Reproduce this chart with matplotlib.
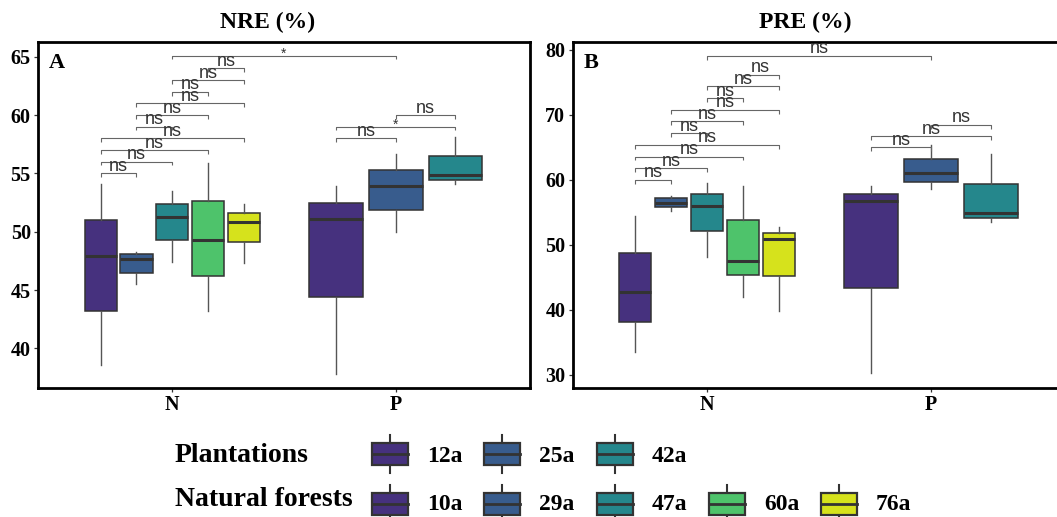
import matplotlib
matplotlib.use("Agg")
import matplotlib.pyplot as plt
from matplotlib.patches import Rectangle

W, H, DPI = 1057, 517, 100

groups = ["N", "P"]
natural_ages = ["10a", "29a", "47a", "60a", "76a"]
plantation_ages = ["12a", "25a", "42a"]
palette = ["#46317E", "#385C8D", "#25878C", "#4EC36B", "#D6E21C"]

# ---- NRE (%) : panel A ----
nre_N_low = [38.6, 45.5, 47.4, 43.2, 47.3]
nre_N_q1 = [43.2, 46.5, 49.3, 46.2, 49.1]
nre_N_med = [47.9, 47.7, 51.3, 49.3, 50.8]
nre_N_q3 = [51.0, 48.1, 52.4, 52.6, 51.6]
nre_N_high = [54.1, 48.3, 53.5, 55.9, 52.4]
nre_P_low = [37.8, 50.0, 54.1]
nre_P_q1 = [44.4, 51.9, 54.4]
nre_P_med = [51.1, 53.9, 54.9]
nre_P_q3 = [52.5, 55.3, 56.5]
nre_P_high = [53.9, 56.7, 58.1]

# ---- PRE (%) : panel B ----
pre_N_low = [33.6, 55.2, 48.2, 42.0, 39.8]
pre_N_q1 = [38.1, 55.9, 52.2, 45.4, 45.3]
pre_N_med = [42.8, 56.5, 56.0, 47.5, 50.9]
pre_N_q3 = [48.7, 57.2, 57.8, 53.8, 51.9]
pre_N_high = [54.5, 57.5, 59.5, 59.0, 52.8]
pre_P_low = [30.3, 58.6, 53.6]
pre_P_q1 = [43.4, 59.7, 54.2]
pre_P_med = [56.7, 61.0, 54.9]
pre_P_q3 = [57.9, 63.3, 59.4]
pre_P_high = [59.1, 65.4, 64.0]

# ---- significance brackets ----
pairs_N = [(0, 1), (0, 2), (0, 3), (0, 4), (1, 2), (1, 3), (1, 4), (2, 3), (2, 4), (3, 4)]
pairs_P = [(0, 1), (0, 2), (1, 2)]
nre_N_sig_y = [55, 56, 57, 58, 59, 60, 61, 62, 63, 64]
nre_N_sig = ["ns"] * 10
nre_P_sig_y = [58.0, 59.0, 60.0]
nre_P_sig = ["ns", "*", "ns"]
nre_NP_sig_y = 65.1
nre_NP_sig = "*"
pre_N_sig_y = [60.0, 61.8, 63.6, 65.4, 67.2, 69.0, 70.8, 72.6, 74.4, 76.2]
pre_N_sig = ["ns"] * 10
pre_P_sig_y = [65.0, 66.7, 68.5]
pre_P_sig = ["ns", "ns", "ns"]
pre_NP_sig_y = 79.1
pre_NP_sig = "ns"

SERIF = "Liberation Serif"
SANS = "Liberation Sans"

fig = plt.figure(figsize=(W / DPI, H / DPI), dpi=DPI)
fig.patch.set_facecolor("white")

y_bot, y_top = 388, 42
axA = fig.add_axes([38 / W, (H - y_bot) / H, 492 / W, (y_bot - y_top) / H])
axB = fig.add_axes([572.5 / W, (H - y_bot) / H, 493 / W, (y_bot - y_top) / H])

posN = [1 + (i - 2) * 0.16 for i in range(5)]
posP = [2 + (i - 1) * 0.8 / 3 for i in range(3)]


def make_stats(low, q1, med, q3, high):
    return [dict(whislo=a, q1=b, med=c, q3=d, whishi=e, fliers=[])
            for a, b, c, d, e in zip(low, q1, med, q3, high)]


def draw_boxes(ax, stats, pos, width):
    bp = ax.bxp(stats, positions=pos, widths=width, patch_artist=True,
                showcaps=False, showfliers=False, manage_ticks=False,
                boxprops=dict(edgecolor="#333333", linewidth=1.1),
                medianprops=dict(color="#333333", linewidth=2.2),
                whiskerprops=dict(color="#555555", linewidth=1.0))
    for patch, col in zip(bp["boxes"], palette):
        patch.set_facecolor(col)


def bracket(ax, x1, x2, y, label, tip):
    ax.plot([x1, x1, x2, x2], [y - tip, y, y, y - tip], color="#666666",
            lw=0.8, solid_capstyle="butt", zorder=3)
    if label == "*":
        size, dy = 10, -1.5
    else:
        size, dy = 13, 1.8
    ax.annotate(label, xy=((x1 + x2) / 2, y), xytext=(0, dy),
                textcoords="offset points", ha="center", va="baseline",
                fontsize=size, family=SANS, color="#333333", zorder=4)


def panel(ax, N, P, ylim, yticks, sigN_y, sigN, sigP_y, sigP, top_y, top_lab, letter):
    draw_boxes(ax, make_stats(*N), posN, 0.144)
    draw_boxes(ax, make_stats(*P), posP, 0.24)
    tip = 0.011 * (ylim[1] - ylim[0])
    for (i, j), y, lab in zip(pairs_N, sigN_y, sigN):
        bracket(ax, posN[i], posN[j], y, lab, tip)
    for (i, j), y, lab in zip(pairs_P, sigP_y, sigP):
        bracket(ax, posP[i], posP[j], y, lab, tip)
    bracket(ax, 1, 2, top_y, top_lab, tip)
    ax.set_xlim(0.4, 2.6)
    ax.set_ylim(*ylim)
    ax.set_yticks(yticks)
    ax.set_xticks([1, 2])
    ax.set_xticklabels(groups)
    for lab in ax.get_xticklabels() + ax.get_yticklabels():
        lab.set_family(SERIF)
        lab.set_fontweight("bold")
        lab.set_fontsize(14.5)
    ax.tick_params(direction="out", length=3.2, width=0.9, color="#333333", pad=2)
    for sp in ax.spines.values():
        sp.set_linewidth(2.0)
        sp.set_color("black")
    ax.text(0.022, 0.925, letter, transform=ax.transAxes, family=SERIF,
            fontweight="bold", fontsize=16, va="baseline", ha="left")


panel(axA,
      (nre_N_low, nre_N_q1, nre_N_med, nre_N_q3, nre_N_high),
      (nre_P_low, nre_P_q1, nre_P_med, nre_P_q3, nre_P_high),
      (36.6, 66.26), [40, 45, 50, 55, 60, 65],
      nre_N_sig_y, nre_N_sig, nre_P_sig_y, nre_P_sig, nre_NP_sig_y, nre_NP_sig, "A")
panel(axB,
      (pre_N_low, pre_N_q1, pre_N_med, pre_N_q3, pre_N_high),
      (pre_P_low, pre_P_q1, pre_P_med, pre_P_q3, pre_P_high),
      (28.0, 81.23), [30, 40, 50, 60, 70, 80],
      pre_N_sig_y, pre_N_sig, pre_P_sig_y, pre_P_sig, pre_NP_sig_y, pre_NP_sig, "B")

fig.text(268 / W, 1 - 28 / H, "NRE (%)", ha="center", va="baseline",
         family=SERIF, fontweight="bold", fontsize=17)
fig.text(805 / W, 1 - 28 / H, "PRE (%)", ha="center", va="baseline",
         family=SERIF, fontweight="bold", fontsize=17)

# ---- legend (drawn in pixel space) ----
lax = fig.add_axes([0, 0, 1, 1], zorder=-1)
lax.set_xlim(0, W)
lax.set_ylim(H, 0)
lax.axis("off")
key_x = [390, 502, 615, 727, 839]
rows = [("Plantations", plantation_ages, 454, 461.5, 461.5),
        ("Natural forests", natural_ages, 504, 506, 510)]
for title, ages, cy, tb, lb in rows:
    lax.text(175, tb, title, family=SERIF, fontweight="bold", fontsize=20,
             va="baseline", ha="left")
    for k, age in enumerate(ages):
        cx = key_x[k]
        lax.plot([cx, cx], [cy - 19, cy + 19], color="#333333", lw=1.5, zorder=1)
        lax.add_patch(Rectangle((cx - 18, cy - 11), 36, 22, facecolor=palette[k],
                                edgecolor="#333333", lw=1.6, zorder=2))
        lax.plot([cx - 18, cx + 18], [cy, cy], color="#333333", lw=2.0, zorder=3)
        lax.text(cx + 37, lb, age, family=SERIF, fontweight="bold", fontsize=17,
                 va="baseline", ha="left")

fig.savefig("out.png", dpi=DPI)
